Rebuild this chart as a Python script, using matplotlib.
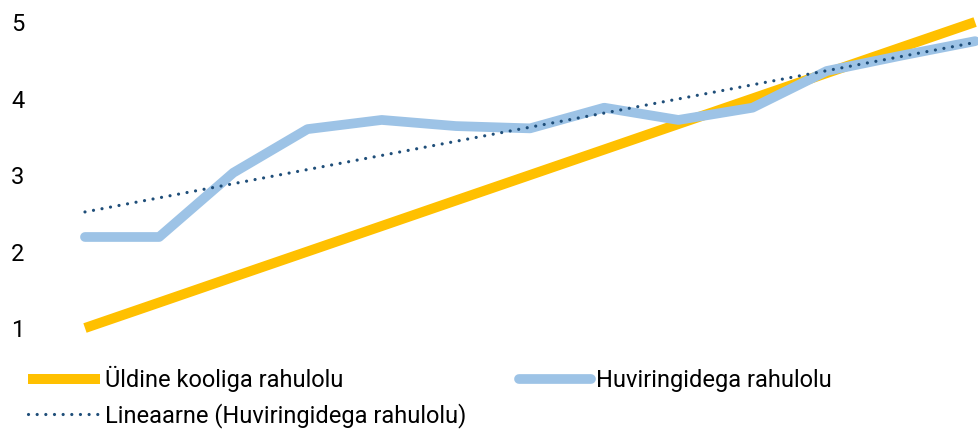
import numpy as np
import matplotlib.pyplot as plt

plt.rcParams['font.family'] = ['Roboto', 'DejaVu Sans']

# andmed
periods = list(range(13))
kool = [1.0, 1.333, 1.667, 2.0, 2.333, 2.667, 3.0, 3.333, 3.667, 4.0, 4.333, 4.667, 5.0]
huviring = [2.19, 2.19, 3.03, 3.60, 3.72, 3.64, 3.61, 3.88, 3.72, 3.88, 4.36, 4.56, 4.75]
y_ticks = [1, 2, 3, 4, 5]

fig = plt.figure(figsize=(9.79, 4.32), dpi=100)
ax = fig.add_axes([0.0868, 0.2407, 0.9092, 0.7083])

l1, = ax.plot(periods, kool, color='#FFC000', lw=7.2, solid_capstyle='butt',
              label='Üldine kooliga rahulolu', clip_on=False, zorder=2)
l2, = ax.plot(periods, huviring, color='#9DC3E6', lw=7, solid_capstyle='round',
              solid_joinstyle='round', label='Huviringidega rahulolu', clip_on=False, zorder=3)

# lineaarne trend
k, b = np.polyfit(periods, huviring, 1)
trend = [k * p + b for p in periods]
l3, = ax.plot(periods, trend, color='#1F4E79', lw=2.3, linestyle=(0, (0.01, 2.7)),
              dash_capstyle='round', label='Lineaarne (Huviringidega rahulolu)',
              clip_on=False, zorder=4)

ax.set_xlim(0, 12)
ax.set_ylim(1, 5)
ax.set_yticks(y_ticks)
ax.set_xticks([])
for s in ax.spines.values():
    s.set_visible(False)
ax.tick_params(axis='y', length=0, pad=53, labelsize=17)
for t in ax.get_yticklabels():
    t.set_horizontalalignment('left')

leg = fig.legend([l1, l3, l2], [l1.get_label(), l3.get_label(), l2.get_label()],
                 ncol=2, loc='upper left', bbox_to_anchor=(0.0286, 0.152),
                 frameon=False, fontsize=17, handlelength=3.05, handletextpad=0.2,
                 columnspacing=2.25, labelspacing=0.45, borderaxespad=0, borderpad=0)

fig.savefig('out.png', dpi=100)
